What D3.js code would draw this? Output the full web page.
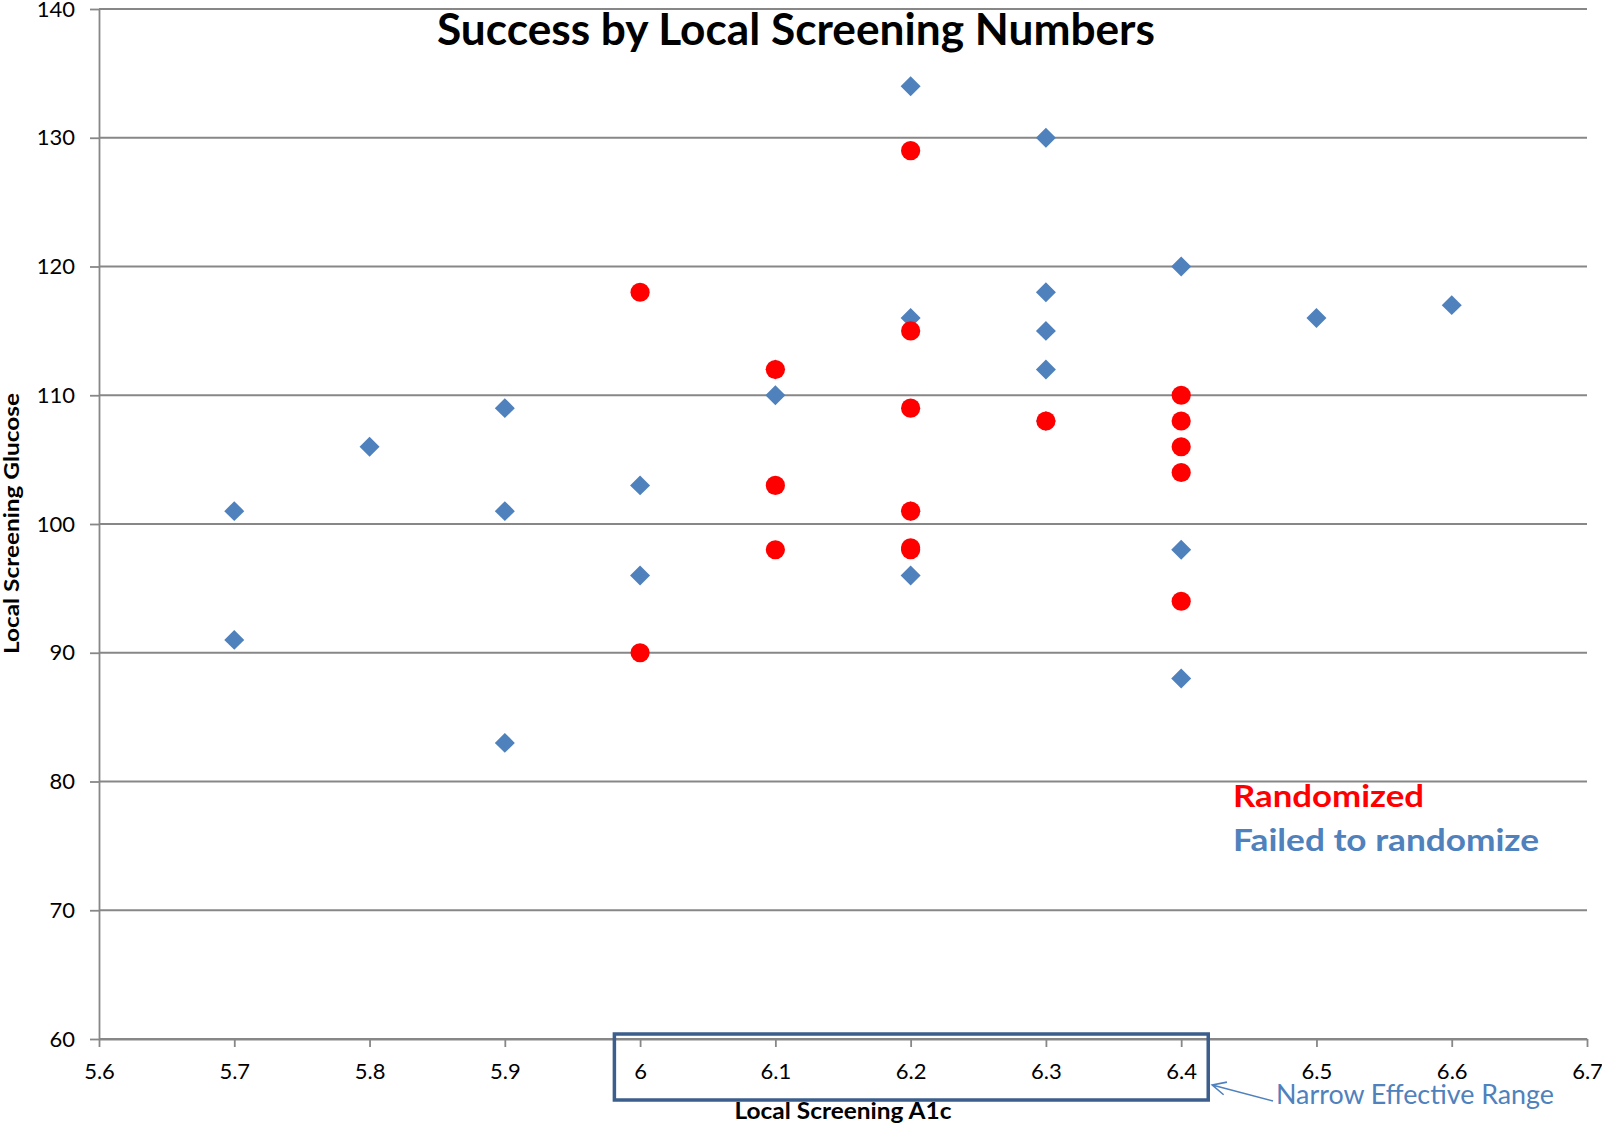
<!DOCTYPE html>
<html>
<head>
<meta charset="utf-8">
<script src="https://cdn.jsdelivr.net/npm/d3@7"></script>
<style>
  html, body { margin: 0; padding: 0; background: #fff; }
  svg { display: block; font-family: Lato, "Open Sans", "DejaVu Sans", sans-serif; }
</style>
</head>
<body>
<svg id="chart" width="1602" height="1125"></svg>
<script>
// A1c (x) and glucose (y) for screened participants who did not randomize
const failedA1c     = [5.7, 5.7, 5.8, 5.9, 5.9, 5.9, 6.0, 6.0, 6.1, 6.1, 6.2, 6.2, 6.2, 6.2, 6.3, 6.3, 6.3, 6.3, 6.3, 6.4, 6.4, 6.4, 6.5, 6.6];
const failedGlucose = [101, 91, 106, 109, 101, 83, 103, 96, 110, 112, 134, 116, 101, 96, 130, 118, 115, 112, 108, 120, 98, 88, 116, 117];

// A1c (x) and glucose (y) for participants who randomized
const randA1c     = [6.0, 6.0, 6.1, 6.1, 6.1, 6.2, 6.2, 6.2, 6.2, 6.2, 6.2, 6.3, 6.4, 6.4, 6.4, 6.4, 6.4];
const randGlucose = [118, 90, 112, 103, 98, 129, 115, 109, 101, 98, 98.15, 108, 110, 108, 106, 104, 94];

// Axis ticks
const xTickValues = [5.6, 5.7, 5.8, 5.9, 6.0, 6.1, 6.2, 6.3, 6.4, 6.5, 6.6, 6.7];
const xTickLabels = ["5.6", "5.7", "5.8", "5.9", "6", "6.1", "6.2", "6.3", "6.4", "6.5", "6.6", "6.7"];
const yTickValues = [60, 70, 80, 90, 100, 110, 120, 130, 140];

// Highlighted A1c window
const effectiveRange = [5.981, 6.42];

const W = 1602, H = 1125;
const margin = { top: 9, right: 15, bottom: 86, left: 99 };
const blue = "#4f81bd", red = "#ff0000", grid = "#878787";

const svg = d3.select("#chart");

const x = d3.scaleLinear().domain([5.6, 6.7]).range([margin.left, W - margin.right]);
const y = d3.scaleLinear().domain([60, 140]).range([H - margin.bottom, margin.top]);

// Horizontal gridlines
svg.append("g")
  .selectAll("line")
  .data(yTickValues)
  .join("line")
  .attr("x1", margin.left).attr("x2", W - margin.right)
  .attr("y1", d => y(d)).attr("y2", d => y(d))
  .attr("stroke", grid).attr("stroke-width", 1.8);

// Y axis
const yAxis = svg.append("g")
  .attr("transform", `translate(${margin.left},0)`)
  .call(d3.axisLeft(y).tickValues(yTickValues).tickSize(9).tickPadding(15).tickSizeOuter(0));
yAxis.select(".domain").attr("stroke", grid).attr("stroke-width", 1.8);
yAxis.selectAll(".tick line").attr("stroke", grid).attr("stroke-width", 1.8);
yAxis.selectAll(".tick text")
  .attr("font-size", 22).attr("fill", "#000").attr("font-family", "Lato, sans-serif");

// X axis
const xAxis = svg.append("g")
  .attr("transform", `translate(0,${H - margin.bottom})`)
  .call(d3.axisBottom(x).tickValues(xTickValues).tickFormat((d, i) => xTickLabels[i])
        .tickSize(8).tickPadding(16).tickSizeOuter(0));
xAxis.select(".domain").attr("stroke", grid).attr("stroke-width", 1.8);
xAxis.selectAll(".tick line").attr("stroke", grid).attr("stroke-width", 1.8);
xAxis.selectAll(".tick text")
  .attr("font-size", 22).attr("fill", "#000").attr("font-family", "Lato, sans-serif");

// Failed-to-randomize points: blue diamonds
const diamond = d3.symbol().type(d3.symbolSquare).size(200);
svg.append("g")
  .selectAll("path")
  .data(d3.zip(failedA1c, failedGlucose))
  .join("path")
  .attr("d", diamond)
  .attr("transform", d => `translate(${x(d[0])},${y(d[1])}) rotate(45)`)
  .attr("fill", blue);

// Randomized points: red circles
svg.append("g")
  .selectAll("circle")
  .data(d3.zip(randA1c, randGlucose))
  .join("circle")
  .attr("cx", d => x(d[0]))
  .attr("cy", d => y(d[1]))
  .attr("r", 9.6)
  .attr("fill", red);

// Helper: text fitted to a given width
function fitText(sel, width) {
  sel.attr("textLength", width).attr("lengthAdjust", "spacingAndGlyphs");
  return sel;
}

// Title
fitText(svg.append("text")
  .attr("x", 796).attr("y", 45)
  .attr("text-anchor", "middle")
  .attr("font-size", 44).attr("font-weight", 700).attr("fill", "#000")
  .text("Success by Local Screening Numbers"), 718);

// Axis titles
fitText(svg.append("text")
  .attr("transform", `translate(19,${(393 + 654) / 2}) rotate(-90)`)
  .attr("text-anchor", "middle")
  .attr("font-size", 21).attr("font-weight", 700).attr("fill", "#000")
  .text("Local Screening Glucose"), 261);

fitText(svg.append("text")
  .attr("x", 843).attr("y", 1119)
  .attr("text-anchor", "middle")
  .attr("font-size", 22).attr("font-weight", 700).attr("fill", "#000")
  .text("Local Screening A1c"), 217);

// Legend text
fitText(svg.append("text")
  .attr("x", 1233).attr("y", 807)
  .attr("font-size", 31).attr("font-weight", 700).attr("fill", red)
  .text("Randomized"), 191);

fitText(svg.append("text")
  .attr("x", 1233).attr("y", 851)
  .attr("font-size", 31).attr("font-weight", 700).attr("fill", blue)
  .text("Failed to randomize"), 306);

// Box around the effective A1c window
const boxTop = y(60) - 5, boxBottom = 1100;
svg.append("rect")
  .attr("x", x(effectiveRange[0]))
  .attr("y", boxTop)
  .attr("width", x(effectiveRange[1]) - x(effectiveRange[0]))
  .attr("height", boxBottom - boxTop)
  .attr("fill", "none")
  .attr("stroke", "#3b5e8c")
  .attr("stroke-width", 3.5);

// Callout arrow and label
const tip = [x(effectiveRange[1]) + 4, 1085], tail = [1273, 1101];
const ang = Math.atan2(tail[1] - tip[1], tail[0] - tip[0]);
const headLen = 15, spread = 0.45;
svg.append("path")
  .attr("d", `M${tail[0]},${tail[1]}L${tip[0]},${tip[1]}` +
             `M${tip[0] + headLen * Math.cos(ang - spread)},${tip[1] + headLen * Math.sin(ang - spread)}` +
             `L${tip[0]},${tip[1]}` +
             `L${tip[0] + headLen * Math.cos(ang + spread)},${tip[1] + headLen * Math.sin(ang + spread)}`)
  .attr("fill", "none").attr("stroke", blue).attr("stroke-width", 1.6);

fitText(svg.append("text")
  .attr("x", 1276).attr("y", 1104)
  .attr("font-size", 26).attr("fill", blue)
  .text("Narrow Effective Range"), 278);
</script>
</body>
</html>
